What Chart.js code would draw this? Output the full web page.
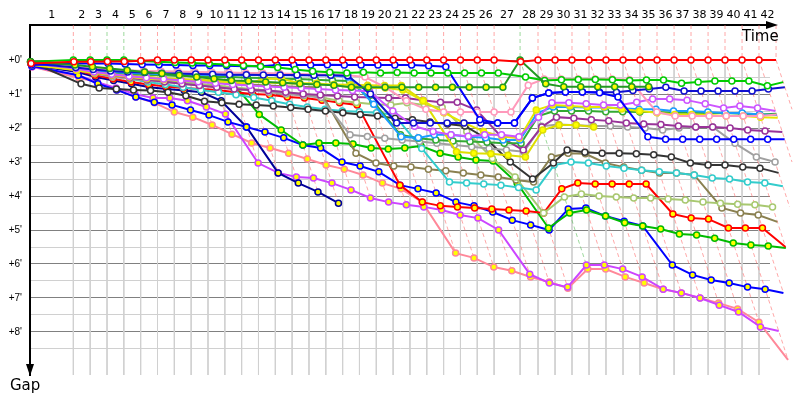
<!DOCTYPE html>
<html>
<head>
<meta charset="utf-8">
<script src="https://cdn.jsdelivr.net/npm/chart.js@4.4.1/dist/chart.umd.min.js"></script>
<style>
html, body { margin: 0; padding: 0; background: #fff; }
</style>
</head>
<body>
<canvas id="chart-gap" width="800" height="400"></canvas>
<script>
const lapLabels = ['1','2','3','4','5','6','7','8','9','10','11','12','13','14','15','16','17','18','19','20','21',
	'22','23','24','25','26','27','28','29','30','31','32','33','34','35','36','37','38','39','40','41','42'];

// leader's race time (minutes) at the end of each lap, index 0 = start
const leaderTime = [0, 3.94, 5.47, 7.0, 8.53, 10.06, 11.59, 13.12, 14.65, 16.18,
	17.71, 19.24, 20.77, 22.3, 23.83, 25.36, 26.89, 28.42, 29.95, 31.48,
	33.01, 34.54, 36.07, 37.6, 39.13, 40.66, 42.19, 44.55, 46.18, 47.73,
	49.27, 50.82, 52.36, 53.91, 55.45, 57.0, 58.55, 60.09, 61.64, 63.18,
	64.73, 66.27, 67.82];

const gapTicks = [0, 0.5, 1, 1.5, 2, 2.5, 3, 3.5, 4, 4.5, 5, 5.5, 6, 6.5, 7, 7.5, 8, 8.5];
const greenLeadLaps = [3, 4, 27];

// gap to the leader (minutes), one value per lap
const redOpen = [0.1,0.05,0.05,0.04,0.04,0.02,0,0,0,0,
	0,0,0,0,0,0,0,0,0,0,
	0,0,0,0,0,0,0,0.05,0,0,
	0,0,0,0,0,0,0,0,0,0,
	0,0,0];
const limeOpen = [0.05,0,0,0,0,0.03,0.05,0.07,0.09,0.11,
	0.13,0.16,0.19,0.22,0.28,0.33,0.36,0.38,0.36,0.38,
	0.37,0.38,0.38,0.38,0.38,0.38,0.38,0.5,0.6,0.58,
	0.57,0.57,0.58,0.6,0.59,0.59,0.68,0.65,0.62,0.62,
	0.62,0.76,0.65];
const blueOpen = [0.15,0.1,0.1,0.1,0.12,0.13,0.14,0.15,0.16,0.16,
	0.17,0.18,0.18,0.15,0.15,0.15,0.14,0.15,0.15,0.15,
	0.15,0.15,0.17,0.2,1.76,1.85,1.85,1.12,0.97,0.94,
	0.94,0.96,1.09,2.26,2.33,2.33,2.33,2.33,2.33,2.33,
	2.33,2.33];
const navyOpen = [0.1,0.22,0.28,0.32,0.35,0.37,0.39,0.4,0.41,0.42,
	0.43,0.43,0.44,0.44,0.44,0.45,0.45,0.46,1.0,1.85,
	1.85,1.85,1.85,1.85,1.85,1.85,1.85,1.12,0.97,0.94,
	0.94,0.95,0.95,0.9,0.85,0.8,0.91,0.91,0.91,0.91,
	0.91,0.85,0.8];
const forestYellow = [0.05,0.15,0.2,0.25,0.3,0.35,0.4,0.45,0.5,0.55,
	0.6,0.62,0.65,0.67,0.7,0.72,0.74,0.8,0.8,0.8,
	0.8,0.8,0.8,0.8,0.8,0.8,0.8,0,0.7,0.79,
	0.79,0.79,0.79,0.79,0.79];
const pinkOpen = [0.12,0.2,0.25,0.28,0.3,0.32,0.33,0.34,0.35,0.36,
	0.37,0.38,0.38,0.4,0.41,0.42,0.43,0.45,0.5,0.8,
	1.2,1.45,1.53,1.53,1.53,1.53,1.53,0.74,0.56,0.56,
	0.56,0.56,0.56,0.58,1.53,1.65,1.65,1.65,1.65,1.65,
	1.65,1.6,1.38];
const violetOpen = [0.1,0.25,0.35,0.42,0.48,0.52,0.56,0.6,0.64,0.68,
	0.72,0.75,0.78,0.8,0.82,0.85,0.88,0.9,0.92,1.5,
	1.95,2.1,2.2,2.24,2.2,2.2,2.26,1.68,1.26,1.26,
	1.29,1.32,1.32,1.24,1.15,1.15,1.18,1.29,1.41,1.35,
	1.41,1.5,1.45];
const yellowA = [0.15,0.3,0.38,0.44,0.5,0.55,0.58,0.6,0.62,0.64,
	0.66,0.68,0.55,0.55,0.68,0.68,0.74,0.8,0.82,0.82,
	0.88,1.2,1.55,1.85,2.1,2.25,2.3,1.47,1.32,1.35,
	1.38,1.38,1.44,1.5,1.55,1.6,1.6,1.62,1.65,1.65,
	1.68,1.7];
const yellowB = [0.12,0.28,0.36,0.42,0.47,0.5,0.53,0.56,0.58,0.6,
	0.62,0.64,0.66,0.68,0.7,0.71,0.72,0.73,0.74,0.75,
	0.75,1.2,2.7,2.74,2.76,2.8,2.85,2.06,1.91,1.91,
	1.97];
const dodgerOpen = [0.1,0.25,0.3,0.35,0.38,0.4,0.42,0.42,0.43,0.44,
	0.44,0.44,0.44,0.45,0.45,0.45,0.45,0.5,1.3,2.26,
	2.29,2.2,2.2,2.26,2.29,2.35,2.35,1.56,1.38,1.38,
	1.4,1.4,1.42,1.45,1.45,1.5,1.5,1.53,1.56,1.56,
	1.6,1.62];
const forestOpen = [0.12,0.27,0.33,0.37,0.4,0.43,0.45,0.47,0.48,0.5,
	0.5,0.52,0.53,0.55,0.56,0.58,0.6,0.62,1.2,2.2,
	2.3,2.35,2.38,2.4,2.42,2.45,2.45,1.65,1.5,1.5,
	1.5,1.52,1.52,1.53,1.53,1.55,1.55,1.56,1.56,1.58,
	1.6,1.58];
const grayOpen = [0.1,0.3,0.4,0.5,0.55,0.6,0.65,0.7,0.75,0.8,
	0.85,0.9,0.95,1.0,1.05,1.1,2.2,2.25,2.3,2.35,
	2.4,2.45,2.5,2.55,2.6,2.65,2.7,1.95,1.9,1.92,
	1.94,1.94,1.97,2.0,2.06,2.0,1.97,1.97,2.45,2.85,
	3.0,3.0];
const purpleOpen = [0.12,0.28,0.38,0.45,0.52,0.58,0.64,0.7,0.75,0.8,
	0.85,0.88,0.9,0.95,1.0,1.03,1.06,1.09,1.1,1.12,
	1.12,1.18,1.24,1.24,1.47,2.3,2.65,1.97,1.68,1.71,
	1.76,1.79,1.85,1.88,1.9,1.94,1.97,1.97,2.0,2.06,
	2.09,2.12];
const blackOpen = [0.05,0.7,0.82,0.85,0.88,0.9,0.95,1.05,1.21,1.26,
	1.3,1.32,1.35,1.4,1.45,1.5,1.55,1.6,1.65,1.71,
	1.76,1.82,1.88,1.94,2.3,3.0,3.5,3.03,2.65,2.71,
	2.74,2.74,2.76,2.79,2.85,3.03,3.09,3.09,3.15,3.18,
	3.32];
const turquoiseOpen = [0.1,0.25,0.35,0.45,0.55,0.65,0.72,0.8,0.88,0.95,
	1.02,1.1,1.2,1.3,1.38,1.45,1.5,1.52,1.55,1.6,
	2.6,3.59,3.62,3.65,3.68,3.75,3.82,3.09,3.0,3.03,
	3.12,3.18,3.24,3.29,3.32,3.38,3.47,3.5,3.59,3.62,
	3.71];
const yellowgreenOpen = [0.1,0.22,0.3,0.4,0.5,0.55,0.6,0.65,0.7,0.75,
	0.8,0.85,0.9,0.95,1.0,1.1,1.2,1.25,1.3,1.32,
	1.26,1.32,1.4,2.1,2.9,3.44,4.5,4.03,3.94,4.0,
	4.03,4.06,4.06,4.09,4.12,4.18,4.21,4.24,4.26,4.32,
	4.32];
const oliveOpen = [0.08,0.2,0.3,0.38,0.45,0.5,0.55,0.6,0.63,0.66,
	0.69,0.72,0.75,0.77,0.79,0.8,2.74,3.03,3.12,3.15,
	3.21,3.26,3.32,3.38,3.44,3.53,3.59,2.85,2.74,2.76,
	3.03,3.15,3.24,3.32,3.32,3.38,4.35,4.5,4.56,4.76];
const redYellow = [0.1,0.3,0.45,0.55,0.65,0.72,0.78,0.82,0.85,0.88,
	0.95,1.0,1.02,1.09,1.12,1.18,1.26,1.32,3.68,4.18,
	4.29,4.32,4.35,4.38,4.41,4.44,4.5,3.79,3.62,3.65,
	3.65,3.65,3.65,4.53,4.65,4.68,4.94,4.94,4.94,5.5];
const greenYellow = [0.1,0.25,0.35,0.42,0.48,0.52,0.55,0.58,0.6,0.62,
	0.65,1.6,2.06,2.5,2.44,2.44,2.47,2.59,2.62,2.59,
	2.53,2.74,2.85,2.94,2.97,3.62,4.94,4.5,4.41,4.59,
	4.79,4.88,4.97,5.12,5.15,5.24,5.38,5.44,5.47,5.53];
const blueYellow = [0.18,0.45,0.7,0.88,1.09,1.24,1.32,1.47,1.62,1.82,
	1.97,2.12,2.29,2.5,2.59,3.0,3.12,3.29,3.68,3.79,
	3.91,4.18,4.29,4.47,4.71,4.85,5.0,4.38,4.35,4.59,
	4.74,4.88,6.03,6.32,6.47,6.56,6.68,6.74,6.85];
const magentaYellow = [0.2,0.45,0.65,0.82,1.0,1.12,1.12,1.2,1.38,1.59,
	3.03,3.32,3.44,3.47,3.62,3.82,4.06,4.18,4.26,4.32,
	4.41,4.56,4.65,5.0,6.3,6.56,6.68,6.03,6.03,6.15,
	6.38,6.74,6.85,7.0,7.21,7.41,7.85,7.97];
const pinkYellow = [0.2,0.53,0.65,0.88,1.09,1.26,1.53,1.68,1.91,2.18,
	2.44,2.59,2.74,2.91,3.09,3.21,3.38,3.62,3.79,4.18,
	5.68,5.82,6.09,6.2,6.38,6.53,6.71,6.15,6.15,6.38,
	6.56,6.74,6.85,7.0,7.15,7.32,7.71,8.82];
const navyYellow = [0.15,0.35,0.5,0.6,0.7,0.8,0.85,0.9,0.95,1.2,
	1.97,3.32,3.62,3.88,4.21];

// line colour / marker fill for each car, first one is drawn on top
const drivers = [
	{ gaps: redOpen, line: '#ff0000', fill: '#ffffff' },
	{ gaps: forestYellow, line: '#229922', fill: '#ffff00' },
	{ gaps: limeOpen, line: '#00cc00', fill: '#ffffff' },
	{ gaps: blueOpen, line: '#0000ff', fill: '#ffffff' },
	{ gaps: navyOpen, line: '#1010d0', fill: '#ffffff' },
	{ gaps: pinkOpen, line: '#ff99bb', fill: '#ffffff' },
	{ gaps: violetOpen, line: '#cc55ff', fill: '#ffffff' },
	{ gaps: yellowA, line: '#e6e600', fill: '#ffff00' },
	{ gaps: yellowB, line: '#dede00', fill: '#ffff00' },
	{ gaps: dodgerOpen, line: '#1a9cff', fill: '#ffffff' },
	{ gaps: forestOpen, line: '#33aa33', fill: '#ffffff' },
	{ gaps: purpleOpen, line: '#993399', fill: '#ffffff' },
	{ gaps: grayOpen, line: '#a0a0a0', fill: '#ffffff' },
	{ gaps: blackOpen, line: '#333333', fill: '#ffffff' },
	{ gaps: turquoiseOpen, line: '#33cccc', fill: '#ffffff' },
	{ gaps: yellowgreenOpen, line: '#a8c870', fill: '#ffffff' },
	{ gaps: oliveOpen, line: '#8a8050', fill: '#ffffff' },
	{ gaps: redYellow, line: '#ff0000', fill: '#ffff00' },
	{ gaps: greenYellow, line: '#00bb00', fill: '#ffff00' },
	{ gaps: blueYellow, line: '#0000ff', fill: '#ffff00' },
	{ gaps: navyYellow, line: '#000099', fill: '#ffff00' },
	{ gaps: magentaYellow, line: '#cc44ff', fill: '#ffff00' },
	{ gaps: pinkYellow, line: '#ff8899', fill: '#ffff00' }
];

const gapMin = -1.03;
const gapMax = 9.265;
const timeMax = 67.27;

function toPoints(gaps) {
	return gaps.map((g, lap) => ({ x: leaderTime[lap] + g, y: g }));
}

// dashed line joining every car on the same lap
function lapLines(laps) {
	const pts = [];
	laps.forEach((lap) => {
		let deepest = 0;
		drivers.forEach((d) => {
			if (d.gaps[lap] != null && d.gaps[lap] > deepest) deepest = d.gaps[lap];
		});
		const t = leaderTime[lap];
		pts.push({ x: t, y: gapMin }, { x: t, y: 0 }, { x: t + deepest, y: deepest }, { x: t, y: null });
	});
	return pts;
}

// light vertical line under each leader lap, from +0' down
function lapGridLines() {
	const pts = [];
	for (let lap = 1; lap < leaderTime.length; lap++) {
		pts.push({ x: leaderTime[lap], y: 0 }, { x: leaderTime[lap], y: gapMax }, { x: leaderTime[lap], y: null });
	}
	return pts;
}

const allLaps = [];
for (let i = 1; i < leaderTime.length; i++) allLaps.push(i);
const pinkLaps = allLaps.filter((l) => !greenLeadLaps.includes(l));
const lapMid = [];
for (let i = 1; i < leaderTime.length; i++) lapMid.push((leaderTime[i - 1] + leaderTime[i]) / 2);

const datasets = drivers.map((d, i) => ({
	data: toPoints(d.gaps),
	borderColor: d.line,
	backgroundColor: d.fill,
	pointBackgroundColor: d.fill,
	pointBorderColor: d.line,
	pointBorderWidth: 1.5,
	pointRadius: 3,
	borderWidth: 2,
	tension: 0,
	clip: false,
	order: i
}));

datasets.push({
	data: lapLines(pinkLaps),
	borderColor: 'rgba(255, 110, 110, 0.6)',
	borderDash: [4, 3],
	borderWidth: 1,
	pointRadius: 0,
	spanGaps: false,
	clip: false,
	order: 100
});
datasets.push({
	data: lapLines(greenLeadLaps),
	borderColor: 'rgba(60, 180, 60, 0.5)',
	borderDash: [4, 3],
	borderWidth: 1,
	pointRadius: 0,
	spanGaps: false,
	clip: false,
	order: 99
});
datasets.push({
	data: lapGridLines(),
	borderColor: '#d0d0d0',
	borderWidth: 1,
	pointRadius: 0,
	spanGaps: false,
	order: 200
});

const axisArrows = {
	id: 'axisArrows',
	afterDraw(chart) {
		const { ctx, chartArea: a } = chart;
		ctx.save();
		ctx.fillStyle = '#000';
		ctx.strokeStyle = '#000';
		ctx.lineWidth = 2;
		ctx.beginPath();
		ctx.moveTo(a.right - 1, a.top);
		ctx.lineTo(770, a.top);
		ctx.stroke();
		ctx.beginPath();
		ctx.moveTo(766, a.top - 4);
		ctx.lineTo(778, a.top);
		ctx.lineTo(766, a.top + 4);
		ctx.closePath();
		ctx.fill();
		ctx.beginPath();
		ctx.moveTo(a.left - 4, a.bottom - 11);
		ctx.lineTo(a.left, a.bottom + 1);
		ctx.lineTo(a.left + 4, a.bottom - 11);
		ctx.closePath();
		ctx.fill();
		ctx.font = '15px "DejaVu Sans"';
		ctx.textBaseline = 'alphabetic';
		ctx.fillText('Time', 742, 41);
		ctx.fillText('Gap', 10, 390);
		ctx.restore();
	}
};

const gapChart = new Chart(document.getElementById('chart-gap'), {
	type: 'line',
	data: { datasets: datasets },
	options: {
		responsive: false,
		animation: false,
		devicePixelRatio: 1,
		layout: { padding: { top: 0, right: 30, bottom: 25, left: 0 } },
		plugins: { legend: { display: false }, tooltip: { enabled: false } },
		scales: {
			x: {
				type: 'linear',
				position: 'top',
				min: 0,
				max: timeMax,
				afterFit: (s) => { s.height = 25; },
				afterBuildTicks: (s) => { s.ticks = lapMid.map((v) => ({ value: v })); },
				ticks: {
					autoSkip: false,
					maxRotation: 0,
					padding: 3,
					color: '#000',
					font: { family: 'DejaVu Sans', size: 11 },
					callback: (v, i) => lapLabels[i]
				},
				grid: { display: false, drawTicks: false },
				border: { color: '#000', width: 2 }
			},
			y: {
				type: 'linear',
				reverse: true,
				min: gapMin,
				max: gapMax,
				afterFit: (s) => { s.width = 30; },
				afterBuildTicks: (s) => { s.ticks = gapTicks.map((v) => ({ value: v })); },
				ticks: {
					autoSkip: false,
					padding: 8,
					color: '#000',
					font: { family: 'Liberation Sans', size: 10 },
					callback: (v) => Number.isInteger(v) ? '+' + v + "'" : ''
				},
				grid: {
					drawTicks: false,
					lineWidth: 1,
					color: (ctx) => (ctx.tick && Number.isInteger(ctx.tick.value)) ? '#808080' : '#d0d0d0'
				},
				border: { color: '#000', width: 2 }
			}
		}
	},
	plugins: [axisArrows]
});
</script>
</body>
</html>
